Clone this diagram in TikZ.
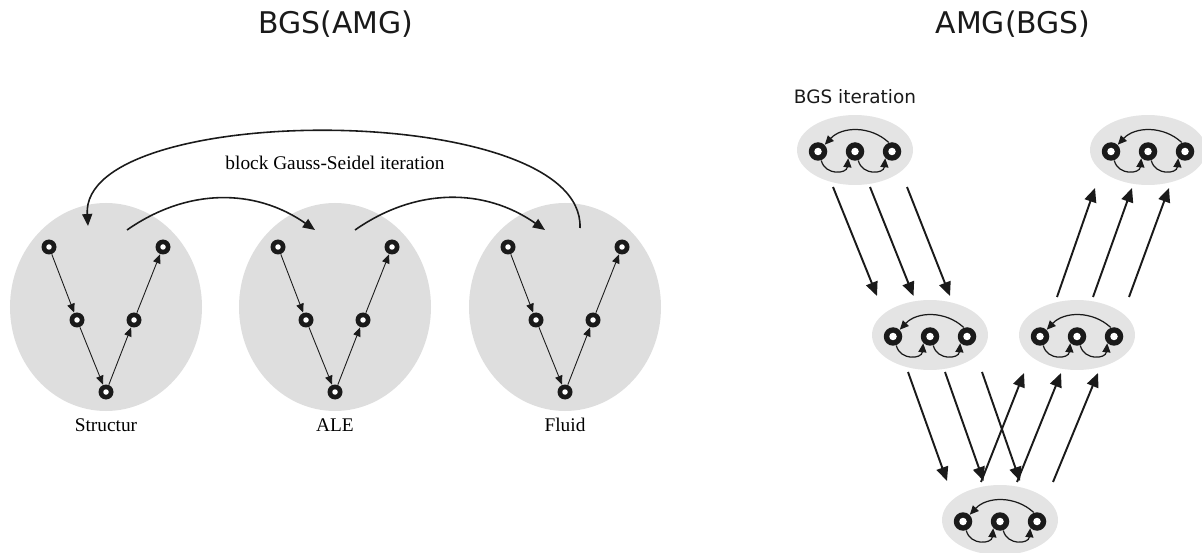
\documentclass[tikz,border=0pt]{standalone}
\usepackage{fontspec}
\setmainfont{Liberation Serif}
\newfontfamily\vsans{DejaVu Sans}
\usepackage{tikz}
\usetikzlibrary{shapes.geometric,arrows.meta,positioning,calc}
\definecolor{mgink}{HTML}{1A1A1A}
\definecolor{mgfield}{HTML}{DEDEDE}
\definecolor{mglevel}{HTML}{E4E4E4}
\tikzset{
  field/.style   = {ellipse, fill=mgfield, minimum width=38.4mm, minimum height=41.6mm, inner sep=0pt},
  level/.style   = {ellipse, fill=mglevel, minimum width=23.2mm, minimum height=14mm, inner sep=0pt},
  ring/.style    = {circle, fill=mgink, minimum size=3mm, inner sep=0pt,
                    path picture={\fill[white] (path picture bounding box.center) circle (0.55mm);}},
  bigring/.style = {circle, fill=mgink, minimum size=3.7mm, inner sep=0pt,
                    path picture={\fill[white] (path picture bounding box.center) circle (0.75mm);}},
  vstep/.style   = {-{Triangle[length=1.8mm,width=1.5mm]}, line width=0.5pt, draw=mgink},
  sweep/.style   = {-{Triangle[length=2.4mm,width=2mm]}, line width=0.9pt, draw=mgink},
  cycle/.style   = {-{Triangle[length=1.8mm,width=1.6mm]}, line width=0.7pt, draw=mgink},
  hop/.style     = {-{Triangle[length=2.8mm,width=2.4mm]}, line width=1.1pt, draw=mgink},
  title/.style   = {font=\vsans\fontsize{17}{20}\selectfont, text=mgink},
  fieldname/.style = {font=\fontsize{11}{13}\selectfont, inner sep=1pt},
}

\begin{document}
\begin{tikzpicture}
\useasboundingbox (0,0) rectangle (24.04,-11.06);

% titles
\node[title] (left-title) at (6.72,-0.48) {BGS(AMG)};
\node[title] (right-title) at (20.26,-0.48) {AMG(BGS)};

% BGS(AMG): one V-cycle per field
\foreach \f/\s/\x/\name in {structur/s/2.12/Structur, ale/a/6.70/ALE, fluid/f/11.30/Fluid} {
  \node[field] (\f) at (\x,-6.14) {};
  \node[fieldname, below=1mm of \f] (\f-name) {\name};
  \node[ring] (\s1) at ($(\f)+(-1.14,1.20)$) {};
  \node[ring] (\s2) at ($(\f)+(-0.58,-0.26)$) {};
  \node[ring] (\s3) at ($(\f)+(0,-1.70)$) {};
  \node[ring] (\s4) at ($(\f)+(0.56,-0.26)$) {};
  \node[ring] (\s5) at ($(\f)+(1.14,1.20)$) {};
  \draw[vstep] (\s1) -- (\s2);
  \draw[vstep] (\s2) -- (\s3);
  \draw[vstep] (\s3) -- (\s4);
  \draw[vstep] (\s4) -- (\s5);
}

\node[font=\fontsize{11}{13}\selectfont] (gs-label) at (6.70,-3.26) {block Gauss-Seidel iteration};
\draw[sweep] ($(structur)+(0.42,1.54)$) to[bend left=35] ($(ale)+(-0.40,1.54)$);
\draw[sweep] ($(ale)+(0.40,1.54)$) to[bend left=35] ($(fluid)+(-0.40,1.54)$);
\draw[sweep] ($(fluid)+(0.30,1.58)$) .. controls +(0.10,2.56) and +(-0.16,2.52) .. ($(structur)+(-0.36,1.62)$);

% AMG(BGS): one BGS sweep per level
\foreach \l/\x/\y in {pre/17.10/-3.00, down/18.60/-6.70, coarse/20.00/-10.40, up/21.54/-6.70, post/22.96/-3.00} {
  \node[level] (\l) at (\x,\y) {};
  \node[bigring] (\l-1) at ($(\l)+(-0.74,-0.03)$) {};
  \node[bigring] (\l-2) at ($(\l)+(0,-0.03)$) {};
  \node[bigring] (\l-3) at ($(\l)+(0.74,-0.03)$) {};
  \draw[cycle] (\l-1.-70) to[bend right=80, looseness=1.5] (\l-2.-135);
  \draw[cycle] (\l-2.-70) to[bend right=80, looseness=1.5] (\l-3.-135);
  \draw[cycle] (\l-3.110) to[bend right=45] (\l-1.45);
}

\node[font=\vsans\fontsize{10.5}{12}\selectfont, text=mgink, above=1mm of pre] (bgs-label) {BGS iteration};

\foreach \d in {0,1,2} {
  \draw[hop] ($(pre)+({-0.44+0.74*\d},-0.74)$) -- ($(down)+({-1.06+0.73*\d},0.78)$);
  \draw[hop] ($(down)+({-0.44+0.74*\d},-0.74)$) -- ($(coarse)+({-1.06+0.73*\d},0.78)$);
  \draw[hop] ($(coarse)+({-0.38+0.72*\d},0.76)$) -- ($(up)+({-1.06+0.74*\d},-0.76)$);
  \draw[hop] ($(up)+({-0.40+0.72*\d},0.76)$) -- ($(post)+({-1.06+0.74*\d},-0.76)$);
}
\end{tikzpicture}
\end{document}
